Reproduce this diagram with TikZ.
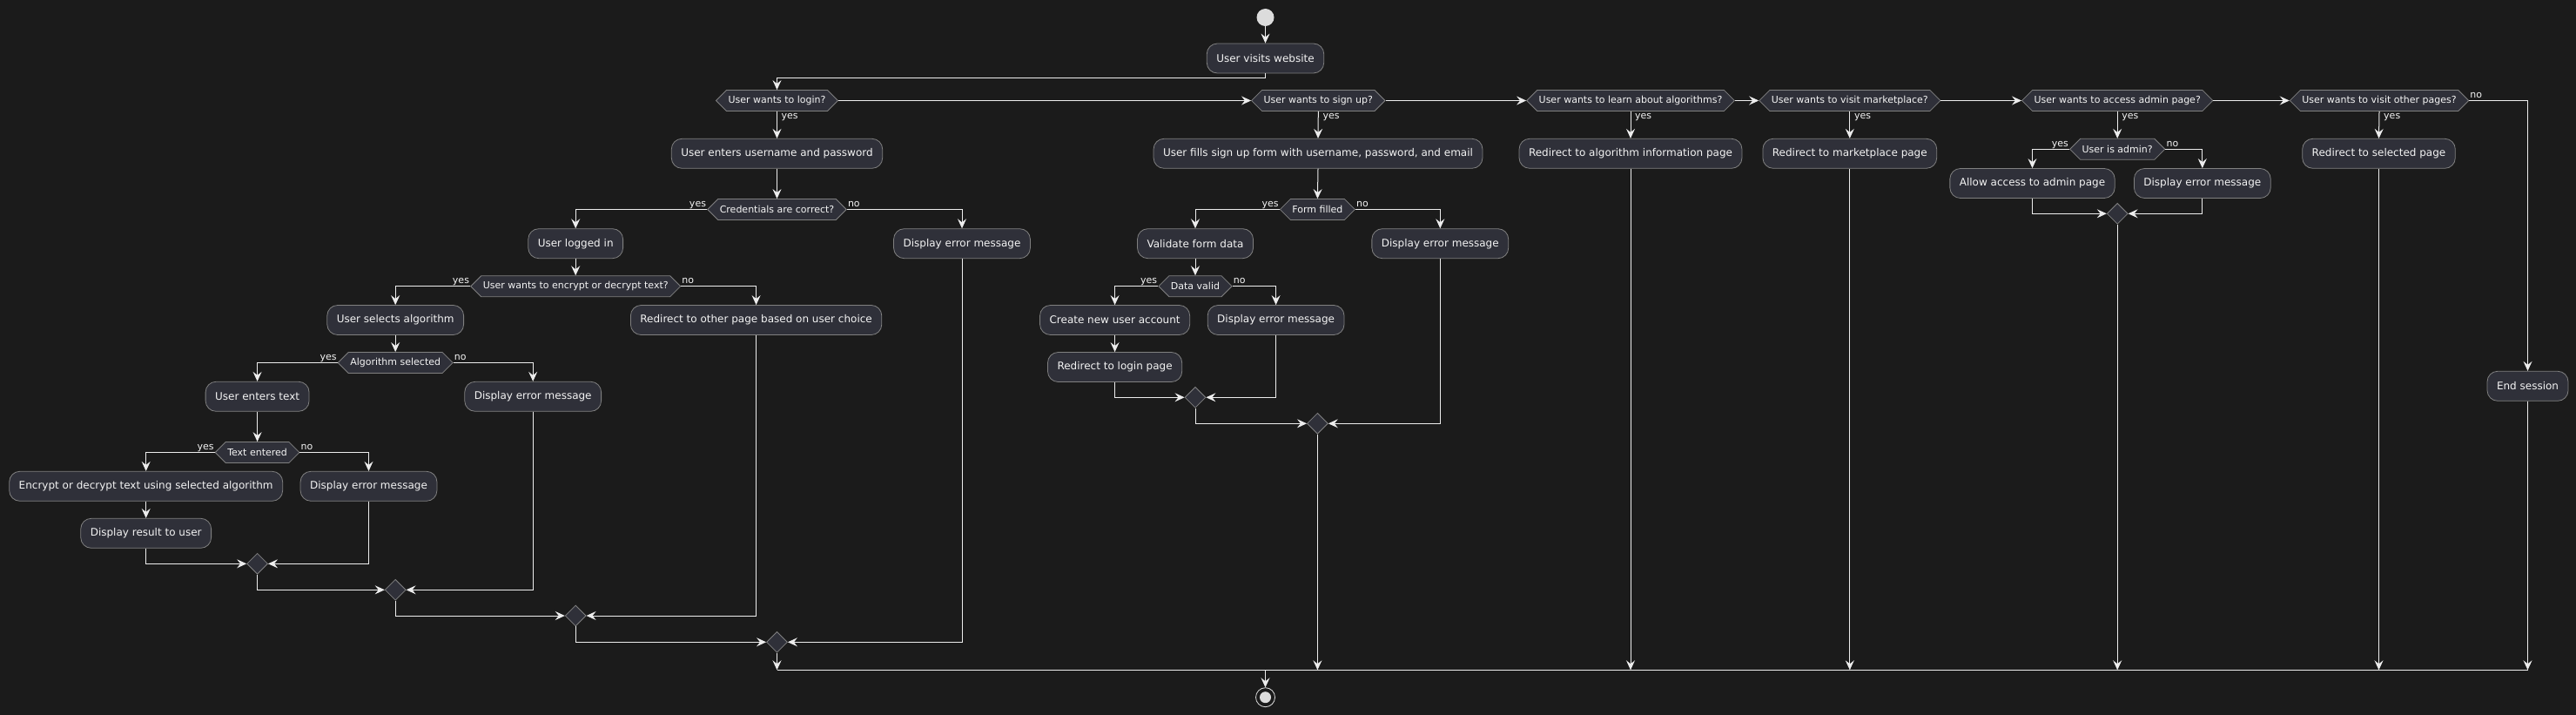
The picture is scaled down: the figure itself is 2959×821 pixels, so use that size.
\documentclass[tikz,border=0pt]{standalone}
\usepackage{fontspec}
\setmainfont{DejaVu Sans}
\usetikzlibrary{shapes.geometric,shapes.symbols,arrows.meta,calc}
\definecolor{bg}{HTML}{1B1B1B}
\definecolor{boxfill}{HTML}{2F3039}
\definecolor{boxline}{HTML}{808080}
\definecolor{wire}{HTML}{EDEDED}
\definecolor{txt}{HTML}{F4F4F4}
\definecolor{startc}{HTML}{DCDCDC}
\begin{document}
\begin{tikzpicture}[x=1pt,y=-1pt,
 act/.style={rectangle, rounded corners=12pt, draw=boxline, fill=boxfill, line width=0.8pt, text=txt, font=\fontsize{12}{14}\selectfont, minimum height=34pt, inner xsep=11pt, inner ysep=2pt},
 hex/.style={signal, signal to=west and east, signal pointer angle=90, draw=boxline, fill=boxfill, line width=0.8pt, text=txt, font=\fontsize{11}{13}\selectfont, minimum height=24pt, inner xsep=2pt, inner ysep=1pt},
 merge/.style={diamond, draw=boxline, fill=boxfill, line width=0.8pt, minimum width=24pt, minimum height=24pt, inner sep=0pt},
 wirel/.style={draw=wire, line width=1pt},
 arr/.style={wirel, -{Stealth[length=11pt,width=10pt,inset=4pt]}},
 lbl/.style={text=txt, font=\fontsize{11}{13}\selectfont, inner sep=0pt}]
\fill[bg] (0,0) rectangle (2959,821);
\useasboundingbox (0,0) rectangle (2959,821);

% start / top
\node[circle, fill=startc, minimum size=20pt, inner sep=0pt] (start) at (1453.5,20) {};
\node[act] (visit) at (1453.5,67) {User visits website};

% top row of decisions
\node[hex] (login) at (892.5,115.5) {User wants to login?};
\node[hex] (signup) at (1514.3,115.5) {User wants to sign up?};
\node[hex] (learn) at (1873,115.5) {User wants to learn about algorithms?};
\node[hex] (market) at (2124.8,115.5) {User wants to visit marketplace?};
\node[hex] (admin) at (2432.2,115.5) {User wants to access admin page?};
\node[hex] (other) at (2733,115.5) {User wants to visit other pages?};

% login branch
\node[act] (enter) at (892.5,176.3) {User enters username and password};
\node[hex] (cred) at (892.5,240.5) {Credentials are correct?};
\node[act] (logged) at (661.2,279.7) {User logged in};
\node[act] (err1) at (1105,279.7) {Display error message};
\node[hex] (encq) at (661.2,328.7) {User wants to encrypt or decrypt text?};
\node[act] (selalg) at (454.2,367.5) {User selects algorithm};
\node[act] (redir) at (868.6,367.5) {Redirect to other page based on user choice};
\node[hex] (algsel) at (454.2,416.5) {Algorithm selected};
\node[act] (entertext) at (295.6,455.3) {User enters text};
\node[act] (err2) at (612.2,455.3) {Display error message};
\node[hex] (textent) at (295.6,519.5) {Text entered};
\node[act] (encrypt) at (167.7,558.3) {Encrypt or decrypt text using selected algorithm};
\node[act] (err3) at (423.5,558.3) {Display error message};
\node[act] (result) at (167.7,612.3) {Display result to user};
\node[merge] (m1) at (295.6,647.3) {};
\node[merge] (m2) at (454.2,677.3) {};
\node[merge] (m3) at (661.2,707) {};
\node[merge] (m4) at (892.5,737.3) {};

% sign up branch
\node[act] (fill) at (1514,176.3) {User fills sign up form with username, password, and email};
\node[hex] (form) at (1513.4,240.5) {Form filled};
\node[act] (validate) at (1373,279.7) {Validate form data};
\node[act] (err4) at (1654.3,279.7) {Display error message};
\node[hex] (valid) at (1373,328.7) {Data valid};
\node[act] (create) at (1280.6,367.5) {Create new user account};
\node[act] (err5) at (1465.6,367.5) {Display error message};
\node[act] (redlogin) at (1280.6,421.5) {Redirect to login page};
\node[merge] (m5) at (1373,456.3) {};
\node[merge] (m6) at (1513.4,486.3) {};

% other branches
\node[act] (algoinfo) at (1873,176.3) {Redirect to algorithm information page};
\node[act] (mkt) at (2124.8,176.3) {Redirect to marketplace page};
\node[hex] (isadmin) at (2432.2,171.3) {User is admin?};
\node[act] (allow) at (2334.5,210.5) {Allow access to admin page};
\node[act] (err6) at (2529.8,210.5) {Display error message};
\node[merge] (m7) at (2432.2,245.3) {};
\node[act] (selpage) at (2732.5,176.3) {Redirect to selected page};
\node[act] (endsess) at (2903.5,443.3) {End session};

% end
\coordinate (mergeL) at (892.5,769.3);
\coordinate (mergeR) at (2903.5,769.3);
\coordinate (mergeC) at (1453.5,769.3);
\node[circle, draw=startc, fill=bg, line width=0.8pt, minimum size=22pt, inner sep=0pt] (endc) at (1453.5,800.7) {};
\fill[startc] (endc.center) circle (6.5);

% connectors: top
\draw[arr] (start) -- (visit.north);
\draw[arr] (visit.south) -- ++(0,5) -| (login.north);
\draw[arr] (login.east) -- (signup.west);
\draw[arr] (signup.east) -- (learn.west);
\draw[arr] (learn.east) -- (market.west);
\draw[arr] (market.east) -- (admin.west);
\draw[arr] (admin.east) -- (other.west);
\draw[arr] (other.east) -| (endsess.north);

% login branch
\draw[arr] (login.south) -- (enter.north);
\draw[arr] (enter.south) -- (cred.north);
\draw[arr] (cred.west) -| (logged.north);
\draw[arr] (cred.east) -| (err1.north);
\draw[arr] (logged.south) -- (encq.north);
\draw[arr] (encq.west) -| (selalg.north);
\draw[arr] (encq.east) -| (redir.north);
\draw[arr] (selalg.south) -- (algsel.north);
\draw[arr] (algsel.west) -| (entertext.north);
\draw[arr] (algsel.east) -| (err2.north);
\draw[arr] (entertext.south) -- (textent.north);
\draw[arr] (textent.west) -| (encrypt.north);
\draw[arr] (textent.east) -| (err3.north);
\draw[arr] (encrypt.south) -- (result.north);
\draw[arr] (result.south) |- (m1.west);
\draw[arr] (err3.south) |- (m1.east);
\draw[arr] (m1.south) |- (m2.west);
\draw[arr] (err2.south) |- (m2.east);
\draw[arr] (m2.south) |- (m3.west);
\draw[arr] (redir.south) |- (m3.east);
\draw[arr] (m3.south) |- (m4.west);
\draw[arr] (err1.south) |- (m4.east);
\draw[arr] (m4.south) -- (mergeL);

% sign up branch
\draw[arr] (signup.south) -- (fill.north);
\draw[arr] (fill.south) -- (form.north);
\draw[arr] (form.west) -| (validate.north);
\draw[arr] (form.east) -| (err4.north);
\draw[arr] (validate.south) -- (valid.north);
\draw[arr] (valid.west) -| (create.north);
\draw[arr] (valid.east) -| (err5.north);
\draw[arr] (create.south) -- (redlogin.north);
\draw[arr] (redlogin.south) |- (m5.west);
\draw[arr] (err5.south) |- (m5.east);
\draw[arr] (m5.south) |- (m6.west);
\draw[arr] (err4.south) |- (m6.east);
\draw[arr] (m6.south) -- (m6.south |- mergeL);

% other branches
\draw[arr] (learn.south) -- (algoinfo.north);
\draw[arr] (algoinfo.south) -- (algoinfo.south |- mergeL);
\draw[arr] (market.south) -- (mkt.north);
\draw[arr] (mkt.south) -- (mkt.south |- mergeL);
\draw[arr] (admin.south) -- (isadmin.north);
\draw[arr] (isadmin.west) -| (allow.north);
\draw[arr] (isadmin.east) -| (err6.north);
\draw[arr] (allow.south) |- (m7.west);
\draw[arr] (err6.south) |- (m7.east);
\draw[arr] (m7.south) -- (m7.south |- mergeL);
\draw[arr] (other.south) -- (selpage.north);
\draw[arr] (selpage.south) -- (selpage.south |- mergeL);
\draw[arr] (endsess.south) -- (mergeR);

% merge line and end
\draw[wirel] (mergeL) -- (mergeR);
\draw[arr] (mergeC) -- (endc.north);

% labels
\node[lbl, anchor=base west] (l1) at ($(login.south)+(5,9)$) {yes};
\node[lbl, anchor=base west] (l2) at ($(signup.south)+(5,9)$) {yes};
\node[lbl, anchor=base west] (l3) at ($(learn.south)+(5,9)$) {yes};
\node[lbl, anchor=base west] (l4) at ($(market.south)+(5,9)$) {yes};
\node[lbl, anchor=base west] (l5) at ($(admin.south)+(5,9)$) {yes};
\node[lbl, anchor=base west] (l6) at ($(other.south)+(5,9)$) {yes};
\node[lbl, anchor=base west] (l7) at ($(other.east)+(1,-3)$) {no};
\node[lbl, anchor=base east] (l8) at ($(cred.west)+(-1,-3)$) {yes};
\node[lbl, anchor=base west] (l9) at ($(cred.east)+(1,-3)$) {no};
\node[lbl, anchor=base east] (l10) at ($(encq.west)+(-1,-3)$) {yes};
\node[lbl, anchor=base west] (l11) at ($(encq.east)+(1,-3)$) {no};
\node[lbl, anchor=base east] (l12) at ($(algsel.west)+(-1,-3)$) {yes};
\node[lbl, anchor=base west] (l13) at ($(algsel.east)+(1,-3)$) {no};
\node[lbl, anchor=base east] (l14) at ($(textent.west)+(-1,-3)$) {yes};
\node[lbl, anchor=base west] (l15) at ($(textent.east)+(1,-3)$) {no};
\node[lbl, anchor=base east] (l16) at ($(form.west)+(-1,-3)$) {yes};
\node[lbl, anchor=base west] (l17) at ($(form.east)+(1,-3)$) {no};
\node[lbl, anchor=base east] (l18) at ($(valid.west)+(-1,-3)$) {yes};
\node[lbl, anchor=base west] (l19) at ($(valid.east)+(1,-3)$) {no};
\node[lbl, anchor=base east] (l20) at ($(isadmin.west)+(-1,-3)$) {yes};
\node[lbl, anchor=base west] (l21) at ($(isadmin.east)+(1,-3)$) {no};
\end{tikzpicture}
\end{document}
